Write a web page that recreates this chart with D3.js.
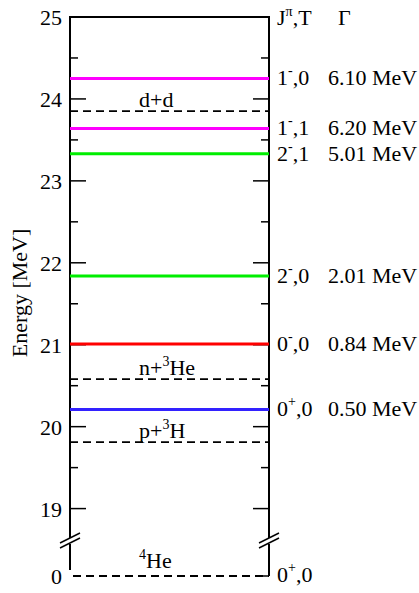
<!DOCTYPE html>
<html>
<head>
<meta charset="utf-8">
<script src="https://cdn.jsdelivr.net/npm/d3@7"></script>
<style>
  body { margin: 0; background: #fff; }
  svg text { font-family: "Liberation Serif", "DejaVu Serif", serif; fill: #000; }
</style>
</head>
<body>
<div id="chart"></div>
<script>
// resonance levels of 4He
var levelEnergy = [24.25, 23.64, 23.33, 21.84, 21.01, 20.21];
var levelSpin = ["1", "1", "2", "2", "0", "0"];
var levelParity = ["-", "-", "-", "-", "-", "+"];
var levelIsospin = ["0", "1", "1", "0", "0", "0"];
var levelWidth = ["6.10 MeV", "6.20 MeV", "5.01 MeV", "2.01 MeV", "0.84 MeV", "0.50 MeV"];
var levelColor = ["#ff00ff", "#ff00ff", "#00ee00", "#00ee00", "#ff0000", "#3322ff"];

// thresholds (dashed)
var threshEnergy = [23.85, 20.58, 19.81, 0];
var threshPre = ["d+d", "n+", "p+", ""];
var threshSup = ["", "3", "3", "4"];
var threshPost = ["", "He", "H", "He"];

var majorTicks = [19, 20, 21, 22, 23, 24, 25];
var minorTicks = [19.5, 20.5, 21.5, 22.5, 23.5, 24.5];

var w = 419, h = 593;
var xLeft = 70, xRight = 269;

var svg = d3.select("#chart").append("svg")
  .attr("width", w).attr("height", h);

// broken axis: 0 sits at the bottom, 18.58..25 is linear
var yScale = d3.scaleLinear()
  .domain([0, 18.58, 25])
  .range([576, 543, 17]);

var xScale = d3.scaleLinear().domain([0, 1]).range([xLeft, xRight]);

// frame
svg.append("line").attr("x1", xLeft).attr("x2", xRight)
  .attr("y1", yScale(25)).attr("y2", yScale(25))
  .attr("stroke", "#000").attr("stroke-width", 2);
svg.append("line").attr("x1", xLeft).attr("x2", xLeft)
  .attr("y1", yScale(25) - 1).attr("y2", 570)
  .attr("stroke", "#000").attr("stroke-width", 2);
svg.append("line").attr("x1", xRight).attr("x2", xRight)
  .attr("y1", yScale(25) - 1).attr("y2", yScale(0))
  .attr("stroke", "#000").attr("stroke-width", 2);

// ticks both sides, pointing inward
[xLeft, xRight].forEach(function(x0) {
  var dir = x0 == xLeft ? 1 : -1;
  svg.selectAll(null).data(majorTicks.slice(0, -1)).enter().append("line")
    .attr("x1", x0).attr("x2", x0 + dir * 16)
    .attr("y1", function(d) { return yScale(d); })
    .attr("y2", function(d) { return yScale(d); })
    .attr("stroke", "#000").attr("stroke-width", 1.5);
  svg.selectAll(null).data(minorTicks).enter().append("line")
    .attr("x1", x0).attr("x2", x0 + dir * 8)
    .attr("y1", function(d) { return yScale(d); })
    .attr("y2", function(d) { return yScale(d); })
    .attr("stroke", "#000").attr("stroke-width", 1.5);
});
svg.append("line").attr("x1", xRight).attr("x2", xRight - 8)
  .attr("y1", yScale(0)).attr("y2", yScale(0))
  .attr("stroke", "#000").attr("stroke-width", 1.5);

// axis break marks
[xLeft, xRight].forEach(function(x0) {
  svg.append("rect").attr("x", x0 - 3).attr("y", 538).attr("width", 6).attr("height", 6)
    .attr("fill", "#fff");
  [0, 5].forEach(function(off) {
    svg.append("line")
      .attr("x1", x0 - 10).attr("y1", 543 + off)
      .attr("x2", x0 + 10).attr("y2", 533 + off)
      .attr("stroke", "#000").attr("stroke-width", 1.5);
  });
});

// tick labels
svg.selectAll(null).data(majorTicks.concat([0])).enter().append("text")
  .attr("x", 62)
  .attr("y", function(d) { return yScale(d) + 8; })
  .attr("text-anchor", "end")
  .style("font-size", "22px")
  .text(function(d) { return d; });

svg.append("text")
  .attr("transform", "translate(27,293) rotate(-90)")
  .attr("text-anchor", "middle")
  .style("font-size", "22px")
  .text("Energy [MeV]");

// threshold lines
svg.selectAll(null).data(threshEnergy).enter().append("line")
  .attr("x1", function(d) { return d == 0 ? xScale(0) + 3 : xScale(0); })
  .attr("x2", xScale(1))
  .attr("y1", function(d) { return yScale(d); })
  .attr("y2", function(d) { return yScale(d); })
  .attr("stroke", "#000").attr("stroke-width", 1.8)
  .attr("stroke-dasharray", "8,5");

threshEnergy.forEach(function(e, i) {
  var t = svg.append("text")
    .attr("x", 139)
    .attr("y", yScale(e) - (i == 3 ? 8 : 4))
    .style("font-size", "22px");
  t.append("tspan").text(threshPre[i]);
  if (threshSup[i]) {
    t.append("tspan").attr("dy", -9).style("font-size", "14px").text(threshSup[i]);
    t.append("tspan").attr("dy", 9).text(threshPost[i]);
  }
});

// resonance levels
svg.selectAll(null).data(levelEnergy).enter().append("line")
  .attr("x1", xScale(0)).attr("x2", xScale(1))
  .attr("y1", function(d) { return yScale(d); })
  .attr("y2", function(d) { return yScale(d); })
  .attr("stroke", function(d, i) { return levelColor[i]; })
  .attr("stroke-width", 3);

function spinLabel(y, spin, parity, iso) {
  var t = svg.append("text").attr("x", 277).attr("y", y).style("font-size", "22px");
  t.append("tspan").text(spin);
  t.append("tspan").attr("dy", -10).style("font-size", "14px").text(parity);
  t.append("tspan").attr("dy", 10).text("," + iso);
}

levelEnergy.forEach(function(e, i) {
  spinLabel(yScale(e) + 7, levelSpin[i], levelParity[i], levelIsospin[i]);
  svg.append("text").attr("x", 328).attr("y", yScale(e) + 7)
    .style("font-size", "22px").text(levelWidth[i]);
});
spinLabel(yScale(0) + 6, "0", "+", "0");

// column headers
var hdr = svg.append("text").attr("x", 277).attr("y", 25).style("font-size", "22px");
hdr.append("tspan").text("J");
hdr.append("tspan").attr("dy", -9).style("font-size", "14px").text("π");
hdr.append("tspan").attr("dy", 9).text(",T");
svg.append("text").attr("x", 338).attr("y", 25).style("font-size", "22px").text("Γ");
</script>
</body>
</html>
